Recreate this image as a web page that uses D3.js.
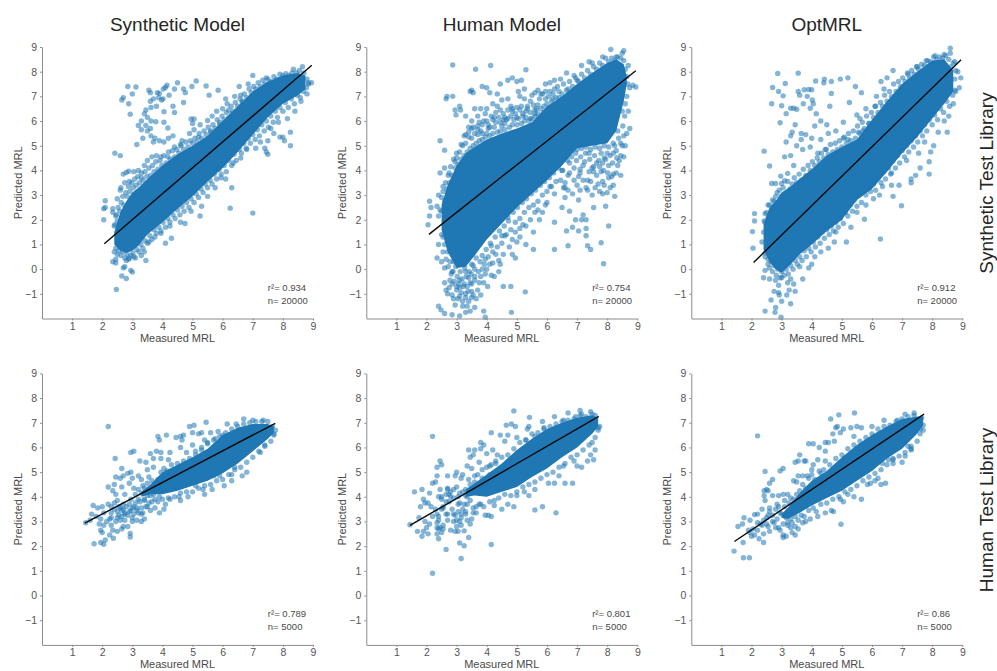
<!DOCTYPE html>
<html>
<head>
<meta charset="utf-8">
<script src="https://d3js.org/d3.v7.min.js"></script>
<style>
  body { margin: 0; background: #fff; }
  svg { display: block; }
  text { font-family: "Liberation Sans", Arial, sans-serif; }
  .tick text { font-size: 10.5px; fill: #555; }
  .tick line, .domain { stroke: #8c8c8c; }
</style>
</head>
<body>
<div class="viz"></div>
<script>
var xTicks = [1, 2, 3, 4, 5, 6, 7, 8, 9];
var yTicks = [-1, 0, 1, 2, 3, 4, 5, 6, 7, 8, 9];
var columnTitles = ['Synthetic Model', 'Human Model', 'OptMRL'];
var rowTitles = ['Synthetic Test Library', 'Human Test Library'];
var rSquared = ['0.934', '0.754', '0.912', '0.789', '0.801', '0.86'];
var sampleSizes = ['20000', '20000', '20000', '5000', '5000', '5000'];

// fit lines, [[x1, y1], [x2, y2]]
var fitLines = [
    [[2.07, 1.03], [8.96, 8.26]],
    [[2.08, 1.41], [8.95, 8.04]],
    [[2.07, 0.27], [8.96, 8.48]],
    [[1.42, 2.93], [7.75, 6.98]],
    [[1.45, 2.84], [7.72, 7.26]],
    [[1.43, 2.19], [7.73, 7.35]]
];

// thousands of points overlap into solid colour in the middle of each panel, so they
// can't be read one by one. That part is a band [x, low, high] read from its edges.
var coreSynSyn = [[2.4,1.0,1.5],[2.6,0.75,2.3],[2.8,0.65,2.75],[3,0.75,3.1],[3.2,0.95,3.3],[3.5,1.4,3.65],[4,1.9,4.2],[4.5,2.45,4.65],[5,2.95,5.0],[5.5,3.55,5.4],[6,4.1,6.0],[6.5,4.75,6.6],[7,5.45,7.2],[7.5,6.15,7.6],[8,6.7,7.85],[8.5,7.05,7.95],[8.75,7.3,7.85]];
var coreHumSyn = [[2.5,1.6,2.6],[2.7,0.7,3.4],[3,0.05,4.2],[3.3,0.1,4.7],[3.6,0.55,4.95],[4,1.2,5.25],[4.5,1.85,5.5],[5,2.5,5.7],[5.5,3.05,5.95],[6,3.6,6.6],[6.5,4.2,7.0],[7,4.9,7.5],[7.5,5.0,7.95],[8,5.1,8.35],[8.3,5.6,8.5],[8.55,6.8,8.3],[8.65,7.5,7.8]];
var coreOptSyn = [[2.4,0.8,1.8],[2.6,0.3,2.5],[2.8,0.0,2.75],[3,-0.15,3.1],[3.3,0.2,3.35],[3.6,0.6,3.65],[4,1.0,4.05],[4.5,1.55,4.6],[5,2.0,4.95],[5.5,2.8,5.25],[6,3.25,6.05],[6.5,3.95,6.8],[7,4.7,7.5],[7.5,5.35,8.0],[8,6.1,8.45],[8.4,6.7,8.5],[8.7,7.2,8.05]];
var coreSynHum = [[3.3,4.0,4.2],[3.6,4.1,4.5],[4,4.1,5.0],[4.5,4.25,5.3],[5,4.45,5.6],[5.5,4.65,5.95],[6,4.95,6.5],[6.5,5.35,6.8],[7,5.85,6.95],[7.5,6.35,6.95],[7.7,6.6,6.85]];
var coreHumHum = [[3.3,4.0,4.3],[3.6,4.05,4.55],[4,4.0,4.9],[4.5,4.2,5.35],[5,4.4,5.9],[5.5,4.8,6.35],[6,5.15,6.75],[6.5,5.6,7.0],[7,6.0,7.2],[7.5,6.55,7.3],[7.7,6.85,7.2]];
var coreOptHum = [[3,3.15,3.3],[3.2,3.1,3.55],[3.6,3.35,4.15],[4,3.65,4.65],[4.5,3.95,5.05],[5,4.25,5.6],[5.5,4.65,6.1],[6,5.05,6.5],[6.5,5.55,6.85],[7,5.95,7.15],[7.5,6.55,7.25],[7.7,6.9,7.25]];

// the points that can be told apart, out in the open
var pointsSynSyn = [[2.42,4.7],[2.6,4.6],[2.65,6.85],[2.7,6.95],[2.85,7.4],[3.12,7.38],[3,7.1],[2.88,6.7],[2.93,6.28],[3.55,7.25],[3.6,7.15],[3.83,7.15],[3.9,7.12],[4.03,7.3],[4.1,7.36],[4.15,7.45],[4.22,7.05],[4.5,7.55],[4.4,7.3],[4.7,7.3],[4.76,7.15],[4.98,7.4],[5.12,7.62],[5.45,7.42],[5.55,7.05],[5.85,7.25],[3.6,6.8],[3.7,6.9],[3.8,6.6],[3.87,6.95],[3.97,6.85],[4.02,6.9],[3.45,6.45],[3.4,6.3],[3.5,6.15],[3.62,6.55],[4.05,6.38],[4.35,6.6],[4.7,6.75],[4.4,6.35],[3.3,6.0],[3.45,5.82],[3.2,5.82],[3.3,5.65],[3.62,6.0],[3.78,5.97],[4.05,5.95],[4.18,5.72],[3.6,5.7],[3.5,5.6],[3.15,5.05],[3.35,5.3],[3.62,5.4],[3.75,5.3],[3.7,5.15],[3.9,5.2],[4.05,5.15],[4.2,5.3],[4.35,5.4],[4.6,5.05],[4.9,5.5],[5.05,5.65],[5.0,5.9],[4.95,6.08],[5.05,6.08],[5.25,5.85],[5.5,6.02],[5.65,6.2],[5.8,6.4],[6.0,6.5],[6.15,6.7],[6.2,6.45],[6.1,6.9],[6.4,7.0],[6.55,7.4],[6.6,7.05],[6.85,7.5],[7.0,7.85],[7.45,7.75],[8.35,8.1],[8.65,8.2],[8.95,7.55],[8.85,7.5],[8.8,7.7],[2.1,2.77],[2.05,2.45],[2.1,2.5],[2.05,2.0],[2.35,2.45],[2.35,2.3],[2.45,2.15],[2.5,2.85],[2.6,3.2],[2.62,3.3],[2.7,3.85],[2.75,3.5],[2.8,3.92],[2.88,3.97],[2.9,3.55],[3.05,3.95],[3.2,4.0],[3.3,3.7],[3.4,4.2],[3.5,4.4],[3.65,4.55],[3.8,4.6],[3.95,4.55],[4.2,4.75],[4.4,4.95],[4.65,5.2],[5.2,5.35],[5.6,5.55],[5.9,5.95],[6.3,6.3],[6.65,6.75],[2.4,1.75],[2.5,1.95],[2.5,0.6],[2.4,0.7],[2.47,-0.82],[2.65,-0.28],[2.8,-0.38],[2.7,0.05],[2.75,0.1],[2.95,-0.05],[3,-0.12],[2.45,0.4],[2.35,0.3],[2.45,0.25],[2.8,0.35],[2.9,0.45],[3.05,0.5],[3.3,0.55],[3.45,0.35],[3.4,0.7],[3.55,1.1],[3.75,1.3],[3.95,1.45],[4.1,1.05],[4.3,1.25],[4.25,1.75],[4.6,1.9],[4.75,1.85],[4.95,2.35],[5.25,2.15],[5.3,2.55],[5.5,2.95],[5.75,3.3],[5.95,3.7],[6.3,3.3],[6.25,2.47],[7,2.27],[6.1,3.65],[6.35,4.3],[6.6,4.5],[6.8,4.85],[7.1,4.9],[7.4,4.9],[7.5,4.65],[7.45,4.75],[7.25,5.15],[7.5,5.2],[7.7,5.5],[7.9,5.35],[8.0,5.35],[8.05,5.2],[8.25,5.0],[8.25,5.55],[8.15,6.1],[8.4,6.4],[8.6,6.8],[8.8,7.1],[7.85,5.95],[7.6,5.7]];
var pointsHumSyn = [[2.87,8.27],[3.63,8.1],[4.13,8.25],[5.3,8.08],[2.65,6.9],[2.68,7.0],[2.87,7.0],[3.1,6.6],[3.13,6.45],[2.95,6.45],[2.98,6.25],[3.3,6.2],[3.45,7.2],[3.5,7.25],[3.55,7.15],[3.85,7.4],[4.0,7.35],[4.1,7.15],[4.35,7.1],[4.45,7.5],[4.7,7.65],[4.85,7.75],[5.0,7.6],[5.15,7.65],[5.05,7.2],[5.25,7.3],[5.6,7.15],[5.7,7.25],[5.8,7.1],[5.95,7.5],[6.1,7.55],[6.25,7.65],[6.45,7.7],[6.65,7.95],[6.9,7.85],[7.15,8.25],[7.4,8.4],[7.5,8.35],[7.85,8.6],[8.12,8.9],[8.3,8.6],[8.5,8.75],[8.55,8.85],[8.7,8.25],[8.85,7.45],[8.95,7.38],[8.75,7.35],[8.7,6.4],[8.75,5.7],[8.65,5.5],[8.6,5.0],[8.55,4.55],[8.4,4.4],[8.45,3.8],[8.2,3.85],[8.2,3.4],[8.25,2.95],[8.0,3.1],[7.85,3.05],[7.95,2.55],[8.05,1.75],[7.88,0.22],[7.8,1.07],[7.45,0.8],[7.35,0.95],[7.3,1.35],[7.05,1.55],[6.85,1.7],[6.65,1.55],[6.95,2.0],[7.15,2.0],[7.3,1.65],[7.3,2.0],[7.2,2.2],[7.55,2.5],[7.5,3.0],[7.3,3.3],[7.7,3.45],[7.85,3.55],[7.05,2.8],[6.75,2.35],[6.5,2.5],[6.6,2.9],[6.25,1.9],[6.25,0.8],[6.7,0.95],[5.55,0.8],[5.3,1.0],[5.1,1.3],[4.85,0.6],[4.95,0.45],[5.0,1.1],[5.2,1.8],[5.55,1.5],[5.75,2.0],[5.85,2.3],[6.0,2.7],[6.25,3.05],[6.1,3.35],[6.6,3.3],[6.9,3.6],[7.4,3.95],[4.8,-0.7],[4.55,-0.7],[4.03,-0.7],[3.95,-1.95],[4.82,-1.75],[5.28,-0.92],[2.4,-1.5],[2.48,-1.65],[2.6,-1.8],[2.85,-1.85],[3.1,-1.9],[3.3,-1.75],[3.45,-1.7],[3.6,-1.55],[3.9,-1.7],[3.35,-1.5],[2.95,-1.45],[3.2,-1.3],[2.7,-1.0],[2.65,-0.85],[2.6,-0.55],[2.85,-0.6],[3.0,-0.85],[3.15,-0.95],[3.3,-1.15],[3.55,-1.05],[3.7,-0.85],[3.9,-0.55],[4.25,-0.3],[4.4,-0.1],[4.0,0.0],[3.8,-0.3],[3.5,-0.6],[3.4,-0.35],[3.1,-0.45],[2.6,0.05],[2.5,0.3],[2.35,0.45],[2.4,1.0],[2.5,1.4],[2.1,2.75],[2.15,2.5],[2.1,2.15],[2.05,1.8],[2.35,2.55],[2.5,2.35],[2.4,2.15],[2.45,5.2],[2.6,4.82],[2.45,3.9],[2.6,4.1],[2.55,3.35],[2.4,3.0],[2.75,3.9],[2.95,4.35],[3.0,4.7],[3.15,5.05],[3.3,5.45],[3.5,5.7],[3.7,5.65],[3.6,6.5],[3.8,6.5],[3.95,6.3],[4.2,6.05],[4.3,6.35],[4.35,6.6],[4.55,6.05],[4.7,6.9],[4.85,6.4],[5.0,6.55],[5.25,6.9],[5.35,6.5],[5.2,6.2],[5.6,6.3],[5.8,6.1],[4.6,5.9],[4.05,5.7],[3.85,5.5],[6.2,6.9],[6.4,6.95],[6.7,7.3],[7.0,7.65],[3.5,0.2],[3.3,-0.1],[2.9,0.3],[2.85,-0.1],[4.3,0.6],[4.5,1.05],[4.6,1.35],[4.15,0.95],[3.95,0.4],[4.7,2.1],[7.55,4.15],[8.05,4.2],[7.9,4.5],[8.3,4.8],[7.1,4.05],[6.7,3.8],[6.5,4.0],[7.8,3.95],[8.05,3.7],[6.55,3.3],[6.7,3.2],[6.85,3.05],[7,3.4],[7.1,3.2],[7.2,3.6],[7.35,3.2],[7.45,3.55],[7.6,3.3],[7.75,3.15],[7.9,3.4],[8.1,3.3],[8.15,3.75],[8.3,3.9],[8.35,4.2],[8.45,4.6],[8.5,5.0],[8.55,5.4],[7.0,4.85],[7.15,4.9],[7.3,4.95],[7.45,4.85],[7.6,4.95],[7.75,4.9],[7.9,5.0],[8.05,4.95],[8.2,5.1],[8.35,5.6],[8.5,6.4],[8.6,6.7],[6.95,4.7],[7.4,4.7],[7.65,4.3],[7.85,4.3],[8.0,4.7],[8.2,4.7],[6.75,4.3],[7.1,3.9],[7.25,4.35],[7.55,3.95],[7.75,4.15],[2.75,-0.75],[2.9,-1.2],[3.05,-1.2],[3.2,-1.5],[3.4,-1.3],[3.5,-1.15],[3.65,-1.2],[3.8,-1.05],[3.35,-0.7],[3.1,-0.75],[3.45,-0.55],[3.6,-0.3],[3.85,0.0],[4.15,-0.25],[4.2,0.25],[4.45,0.2],[4.55,0.6],[4.75,0.9],[4.85,1.2],[4.95,1.5],[5.1,1.65],[5.3,1.75],[5.45,2.0],[5.6,2.3],[5.7,2.4],[5.95,2.6],[3.4,5.55],[3.55,5.75],[3.7,5.45],[3.85,5.85],[4,6.0],[4.1,5.75],[4.25,6.15],[4.45,5.95],[4.6,6.15],[4.7,6.1],[4.85,6.5],[5,6.15],[5.15,6.6],[5.3,6.4],[5.45,6.1],[5.6,6.45],[5.7,6.65],[5.9,6.35],[5.95,7.2],[6.05,7.0],[6.2,7.1],[6.35,7.4]];
var pointsOptSyn = [[2.87,7.93],[3.55,7.94],[3.12,7.52],[2.7,7.36],[2.9,7.2],[3.05,7.02],[2.67,6.7],[3.0,6.62],[3.3,6.52],[3.4,6.52],[3.5,6.48],[3.72,6.7],[3.95,6.52],[3.15,6.3],[2.95,5.93],[4.15,6.3],[4.3,6.0],[3.55,7.2],[3.6,7.05],[3.75,7.27],[3.85,7.0],[3.9,7.28],[4.0,7.27],[4.02,6.85],[4.05,6.7],[4.13,7.62],[4.4,7.55],[4.42,7.7],[4.65,7.6],[4.95,7.7],[5.2,7.75],[5.45,7.4],[4.65,7.12],[4.6,6.6],[5.25,6.75],[5.65,7.15],[5.8,6.5],[5.5,6.25],[5.6,6.1],[5.05,5.95],[4.5,5.85],[4.1,5.8],[3.45,5.85],[3.35,5.55],[3.3,5.4],[3.65,5.5],[3.8,5.45],[3.65,5.25],[4.0,5.3],[4.3,5.25],[4.55,5.5],[4.8,5.6],[5.05,5.3],[3.15,5.15],[3.5,5.0],[3.7,4.85],[3.95,4.95],[4.2,4.7],[4.45,4.85],[2.42,4.78],[2.6,4.18],[3.1,4.55],[3.3,4.6],[3.4,4.2],[3.2,3.88],[2.97,3.77],[2.67,3.47],[2.8,3.47],[3.0,3.47],[3.1,3.58],[2.85,3.1],[2.75,2.75],[2.55,2.6],[2.45,2.25],[2.42,1.95],[2.1,2.25],[2.1,1.95],[2.03,1.52],[2.05,0.85],[2.4,1.5],[2.35,1.1],[2.45,0.65],[2.55,0.2],[2.45,-0.05],[2.4,-0.35],[2.6,-0.4],[2.8,-0.45],[3.0,-0.35],[3.2,-0.55],[3.3,-0.4],[3.4,-0.6],[3.45,-0.9],[3.25,-0.85],[3.17,-1.05],[3.3,-1.4],[2.65,-1.25],[2.75,-0.9],[2.9,-0.65],[2.9,-0.95],[2.92,-1.05],[2.45,-1.7],[2.78,-1.75],[2.8,-1.55],[3.0,-1.3],[2.98,-1.95],[3.6,0.1],[3.7,-0.4],[3.9,0.05],[4.0,0.2],[4.1,0.5],[4.3,0.7],[4.55,0.85],[4.75,1.1],[5.15,1.1],[4.8,1.5],[5.3,1.7],[5.5,2.3],[5.75,2.02],[5.8,2.6],[6.28,1.22],[6.05,2.85],[6.25,3.0],[6.35,3.35],[6.65,3.4],[6.65,3.9],[6.7,2.95],[6.98,2.57],[6.9,3.4],[7.3,3.5],[7.3,3.65],[7.45,3.8],[7.6,4.1],[7.9,3.85],[7.9,4.35],[7.55,4.7],[7.15,4.4],[7.95,4.75],[8.05,5.0],[7.75,5.15],[8.2,5.55],[8.5,5.55],[8.55,6.2],[8.4,6.0],[8.7,6.7],[8.75,7.25],[8.9,7.35],[8.95,7.75],[8.85,8.0],[8.75,8.4],[8.6,8.75],[8.6,8.95],[8.4,8.7],[8.1,8.65],[7.8,8.45],[7.5,8.2],[7.2,7.9],[6.7,8.05],[6.5,7.75],[6.3,7.6],[6.4,7.3],[6.15,7.0],[6.1,6.6],[6.3,6.25],[5.9,5.9],[5.7,5.6],[5.55,5.55],[5.2,5.25]];
var pointsSynHum = [[2.2,6.85],[2.43,5.55],[2.95,5.8],[3.05,5.85],[3.25,5.45],[2.65,5.15],[2.95,5.0],[3.45,5.4],[3.6,5.75],[3.8,5.85],[3.7,5.55],[3.95,5.55],[3.95,5.8],[4.2,5.5],[4.25,5.8],[3.85,6.45],[3.9,6.3],[4.13,6.5],[4.45,6.4],[4.65,6.3],[4.6,6.0],[4.7,6.5],[4.6,6.45],[5.05,6.9],[4.9,6.85],[5.0,6.6],[5.2,6.55],[5.45,7.02],[5.3,6.6],[5.6,6.6],[5.4,6.3],[5.85,6.65],[6.15,6.95],[6.45,6.95],[6.7,7.15],[7.0,7.1],[7.35,7.1],[7.65,6.85],[7.75,6.7],[7.7,6.55],[7.4,6.1],[7.25,5.8],[6.8,5.0],[6.65,4.85],[6.4,5.2],[6.3,4.9],[5.9,4.85],[5.7,4.85],[5.65,4.3],[5.1,4.45],[5.35,4.3],[4.55,4.0],[4.4,4.35],[4.05,3.5],[4.1,3.7],[3.85,3.8],[3.65,3.8],[3.5,3.6],[3.3,3.3],[3.0,3.15],[3.15,3.45],[2.65,3.45],[2.7,3.7],[2.5,3.85],[2.4,3.75],[2.2,3.7],[2.0,3.6],[1.85,3.55],[1.7,3.65],[1.65,3.3],[1.45,2.95],[1.6,3.05],[1.8,3.2],[1.95,3.1],[2.05,3.35],[2.15,3.0],[1.9,2.9],[2.05,2.85],[2.25,3.1],[2.3,3.35],[2.55,3.25],[2.6,3.05],[2.75,3.3],[2.9,3.4],[3.05,3.6],[3.2,3.9],[3.4,3.9],[3.6,4.05],[2.3,2.85],[2.35,2.65],[2.5,2.6],[2.25,2.45],[1.95,2.65],[2.0,2.55],[1.95,2.15],[2.1,2.25],[1.73,2.1],[2.05,2.08],[2.37,2.32],[2.65,2.7],[2.7,2.8],[2.85,2.8],[3.0,3.0],[2.93,2.52],[2.93,2.37],[3.15,3.05],[2.45,4.8],[2.6,4.75],[2.4,4.5],[2.35,4.25],[2.2,4.4],[2.45,4.1],[2.7,4.85],[2.65,4.4],[2.85,4.95],[2.9,4.55],[3.0,4.75],[3.2,4.85],[3.05,4.35],[2.75,4.1],[2.95,3.9],[2.55,3.6],[3.35,4.45],[3.3,4.7],[3.5,5.1],[3.7,5.2],[3.55,4.8],[3.75,3.55],[3.9,3.35],[4.25,3.9],[4.6,3.85],[4.85,4.0],[5.4,4.1],[6.05,4.45],[6.3,4.65],[5.3,6.0],[5.0,6.1],[4.8,5.8],[5.1,5.85],[5.5,6.2],[5.75,6.35],[6.0,6.5]];
var pointsHumHum = [[2.2,6.45],[4.9,7.48],[5.42,7.22],[6.7,7.4],[6.25,7.25],[5.85,7.05],[4.82,6.95],[4.65,6.9],[4.95,6.85],[5.4,6.85],[5.35,6.75],[4.15,6.6],[4.45,6.5],[3.8,6.2],[3.9,6.1],[3.45,5.6],[3.55,5.7],[3.4,5.9],[3.6,5.9],[3.8,5.95],[4.0,5.75],[4.2,5.9],[4.35,5.7],[4.6,6.25],[4.7,6.5],[5.0,6.4],[3.75,5.4],[3.5,5.15],[3.35,5.25],[3.0,5.0],[2.95,4.85],[3.15,4.75],[3.2,4.9],[2.45,5.45],[2.35,5.2],[2.5,5.3],[2.35,4.85],[2.7,4.85],[2.3,4.6],[2.45,4.3],[2.2,4.55],[2.1,4.15],[1.85,4.3],[1.6,4.2],[1.9,3.9],[2.05,3.75],[1.95,3.75],[1.8,3.6],[2.15,3.6],[2.65,3.8],[2.5,4.0],[2.7,4.35],[2.8,4.2],[2.9,3.95],[3.1,4.15],[3.3,4.3],[3.45,4.5],[3.6,4.85],[3.05,3.7],[2.85,3.5],[2.65,3.3],[2.3,3.5],[2.4,3.2],[2.2,3.2],[1.95,3.0],[1.45,2.87],[1.75,3.15],[1.9,2.6],[1.7,2.6],[2.0,2.75],[2.05,2.5],[1.85,2.4],[2.1,2.9],[2.35,2.95],[2.4,2.7],[2.5,2.55],[2.35,2.5],[2.4,2.3],[2.55,2.7],[2.7,3.05],[2.8,2.65],[2.95,2.6],[3.05,2.6],[3.15,2.85],[3.25,2.62],[3.15,3.3],[3.0,3.05],[3.3,3.3],[3.5,3.1],[3.45,2.9],[3.05,3.4],[3.35,3.7],[3.65,3.6],[3.95,3.25],[4.05,3.25],[4.15,3.2],[4.15,2.07],[2.65,1.87],[3.1,2.13],[3.25,2.02],[3.4,2.35],[3.15,1.5],[2.2,0.9],[3.8,3.7],[4.25,3.65],[4.5,3.5],[4.7,3.7],[4.9,3.6],[5.6,3.47],[5.85,3.6],[6.3,3.35],[5.0,4.05],[5.4,4.05],[5.25,4.2],[5.6,4.3],[6.05,4.55],[6.25,4.55],[6.6,4.55],[6.85,4.55],[6.4,4.85],[7.15,5.2],[7.0,5.25],[6.55,5.25],[6.9,5.45],[7.35,5.45],[7.55,5.5],[7.45,5.7],[7.6,5.9],[7.5,6.2],[7.75,6.85],[7.7,6.7],[7.6,7.3],[7.45,7.45],[7.1,7.5],[7.15,7.35],[6.95,7.25],[6.55,7.1],[5.9,6.75],[5.6,6.45],[5.3,6.3],[4.1,5.25],[4.3,5.45],[4.1,4.9],[3.85,4.75],[3.3,4.05],[3.2,3.5],[2.9,3.3],[2.55,3.55],[2.75,4.1],[3.55,3.35]];
var pointsOptHum = [[2.2,6.47],[5.42,7.4],[4.9,7.32],[4.63,7.15],[4.85,6.85],[4.8,6.8],[5.05,6.75],[5.3,6.8],[5.5,6.85],[4.45,6.2],[4.7,6.55],[4.95,6.6],[4.55,6.2],[4.75,6.25],[3.9,6.15],[4.05,6.15],[4.25,6.0],[4.45,5.85],[3.6,5.7],[3.55,5.45],[3.45,5.4],[3.75,5.45],[3.8,5.45],[4.05,5.3],[4.2,5.5],[4.45,5.45],[4.0,5.1],[3.05,5.15],[2.95,5.05],[2.45,5.03],[2.7,4.7],[2.6,4.55],[2.5,4.3],[2.42,4.25],[2.55,4.25],[2.42,4.05],[2.45,3.85],[2.7,4.05],[2.9,4.05],[3.05,4.1],[3.2,4.1],[3.3,3.95],[3.5,4.6],[3.55,4.85],[3.7,4.85],[3.4,4.65],[2.85,3.7],[2.6,3.55],[2.35,3.5],[2.2,3.3],[2.1,3.28],[1.75,3.15],[1.95,3.05],[1.55,2.8],[1.7,2.9],[1.9,2.65],[2.05,2.7],[2.1,2.45],[2.2,2.65],[2.0,2.4],[1.95,2.55],[1.72,2.15],[2.25,2.3],[2.4,2.15],[2.4,2.5],[2.6,2.6],[2.8,2.75],[2.95,2.65],[3.05,2.45],[3.05,2.35],[3.15,2.4],[3.35,2.55],[3.45,2.45],[3.3,2.75],[3.45,2.8],[3.55,2.7],[3.7,2.95],[3.8,3.0],[3.95,3.1],[4.2,3.2],[4.45,3.35],[4.65,3.45],[4.95,3.9],[4.72,3.4],[5.05,3.8],[5.2,4.1],[5.4,4.0],[5.65,3.9],[5.85,4.5],[5.95,4.55],[6.1,4.65],[6.2,4.75],[6.45,4.55],[6.3,4.5],[6.35,5.35],[6.7,5.35],[6.7,5.55],[6.55,5.5],[7.0,5.4],[7.1,5.65],[7.3,5.9],[7.2,6.05],[7.3,5.95],[7.7,6.7],[7.6,6.75],[7.65,7.2],[7.4,7.4],[7.1,7.35],[6.85,7.1],[6.4,7.1],[6.0,6.85],[5.65,6.8],[5.4,6.45],[4.97,2.89],[1.42,1.8],[1.73,1.53],[1.93,1.53],[2.9,2.75],[3.3,3.1],[2.55,3.25],[2.7,3.0],[2.95,3.35],[3.1,3.6],[3.2,2.95],[2.35,2.85],[2.2,2.95],[2.5,2.9],[3.9,4.75],[4.3,4.95]];

// estimated points on the crowded fringe round each solid band
var fringeSynSyn = [[2.42,1.8],[2.47,2.2],[2.53,2.5],[2.58,2.35],[2.63,2.7],[2.68,2.95],[2.72,2.6],[2.78,3.1],[2.83,2.95],[2.87,3.35],[2.92,3.15],[2.98,3.5],[3.03,3.3],[3.08,3.65],[3.13,3.4],[3.18,3.75],[3.24,3.5],[3.3,3.9],[3.36,3.6],[3.42,3.95],[3.48,3.75],[3.55,4.1],[3.6,3.8],[3.67,4.2],[3.72,3.95],[3.78,4.35],[3.85,4.05],[3.92,4.4],[3.98,4.2],[4.05,4.6],[4.12,4.3],[4.18,4.55],[4.26,4.45],[4.33,4.8],[4.4,4.55],[4.48,4.85],[4.55,4.7],[4.62,5.0],[4.7,4.85],[4.78,5.15],[4.85,4.95],[4.93,5.2],[5,5.1],[5.08,5.3],[5.15,5.15],[5.22,5.5],[5.3,5.3],[5.38,5.6],[5.45,5.45],[5.52,5.75],[5.6,5.6],[5.68,5.85],[5.75,5.7],[5.82,6.05],[5.9,5.85],[5.98,6.2],[6.05,6.05],[6.12,6.35],[6.2,6.15],[6.28,6.6],[6.35,6.4],[6.42,6.75],[6.5,6.6],[6.58,6.9],[6.65,6.8],[6.72,7.1],[6.8,6.95],[6.88,7.3],[6.95,7.15],[7.03,7.4],[7.1,7.3],[7.18,7.55],[7.25,7.4],[7.33,7.65],[7.4,7.5],[7.5,7.7],[7.6,7.6],[7.7,7.8],[7.8,7.7],[7.9,7.9],[8,7.85],[8.1,7.92],[8.2,7.85],[8.3,7.95],[8.45,7.95],[8.55,8.05],[8.7,7.95],[2.45,0.85],[2.52,1.1],[2.55,0.75],[2.62,0.55],[2.68,0.7],[2.75,0.45],[2.82,0.6],[2.88,0.4],[2.95,0.55],[3.02,0.65],[3.1,0.45],[3.15,0.8],[3.22,0.7],[3.28,1.0],[3.35,0.85],[3.42,1.15],[3.5,1.05],[3.58,1.35],[3.65,1.2],[3.72,1.6],[3.8,1.45],[3.88,1.7],[3.95,1.55],[4.02,1.9],[4.1,1.7],[4.18,2.05],[4.25,1.9],[4.35,2.2],[4.42,2.05],[4.5,2.4],[4.58,2.2],[4.65,2.55],[4.72,2.35],[4.8,2.7],[4.88,2.5],[4.95,2.85],[5.05,2.7],[5.12,3.05],[5.2,2.9],[5.28,3.25],[5.35,3.1],[5.42,3.45],[5.5,3.3],[5.58,3.6],[5.65,3.45],[5.72,3.85],[5.8,3.65],[5.88,4.05],[5.95,3.85],[6.05,4.2],[6.12,3.95],[6.2,4.4],[6.3,4.2],[6.38,4.65],[6.45,4.4],[6.55,4.85],[6.62,4.7],[6.7,5.1],[6.78,4.9],[6.85,5.3],[6.92,5.1],[7,5.45],[7.08,5.25],[7.15,5.65],[7.22,5.4],[7.3,5.85],[7.38,5.6],[7.45,6.0],[7.52,5.75],[7.6,6.2],[7.68,5.95],[7.75,6.4],[7.82,6.15],[7.9,6.55],[8,6.4],[8.08,6.75],[8.18,6.55],[8.28,6.9],[8.38,6.7],[8.48,7.05],[8.58,6.95],[8.68,7.2],[8.78,7.35],[8.85,7.55]];
var fringeHumSyn = [[2.45,2.4],[2.5,2.9],[2.55,3.15],[2.6,2.75],[2.63,3.5],[2.68,3.25],[2.72,3.8],[2.76,3.5],[2.8,4.15],[2.85,3.8],[2.9,4.45],[2.95,4.1],[3,4.5],[3.05,4.25],[3.1,4.75],[3.15,4.45],[3.2,5],[3.25,4.6],[3.3,5.1],[3.35,4.75],[3.4,5.35],[3.45,4.9],[3.5,5.3],[3.55,5.0],[3.6,5.5],[3.65,5.1],[3.7,5.8],[3.75,5.2],[3.8,5.6],[3.85,5.25],[3.9,6.0],[3.95,5.35],[4,5.5],[4.05,5.85],[4.1,5.4],[4.15,6.2],[4.2,5.5],[4.25,5.75],[4.3,5.95],[4.35,5.55],[4.4,6.15],[4.45,5.6],[4.5,5.8],[4.55,6.3],[4.6,5.65],[4.65,6.05],[4.7,6.45],[4.75,5.75],[4.8,6.2],[4.85,5.85],[4.9,6.05],[4.95,6.3],[5,5.85],[5.05,6.1],[5.1,6.45],[5.15,5.9],[5.2,6.3],[5.25,6.0],[5.3,6.15],[5.35,6.6],[5.4,6.0],[5.45,6.35],[5.5,6.1],[5.55,6.65],[5.6,6.2],[5.65,6.5],[5.7,6.3],[5.75,6.9],[5.8,6.5],[5.85,7.1],[5.9,6.6],[5.95,6.9],[6,6.7],[6.1,7.2],[6.15,6.8],[6.25,7.3],[6.3,6.95],[6.4,7.2],[6.5,7.1],[6.55,7.5],[6.65,7.25],[6.75,7.6],[6.85,7.4],[6.95,7.75],[7.05,7.6],[7.15,7.9],[7.25,7.75],[7.35,8.05],[7.45,7.9],[7.55,8.2],[7.65,8.1],[7.75,8.35],[7.85,8.25],[7.95,8.55],[8.05,8.4],[8.15,8.55],[8.25,8.45],[8.35,8.6],[8.45,8.55],[8.55,8.45],[8.6,8.1],[8.65,7.8],[8.68,7.5],[8.65,7.0],[2.55,1.3],[2.6,1.0],[2.55,0.7],[2.65,0.4],[2.7,0.7],[2.72,0.1],[2.78,0.3],[2.82,-0.2],[2.88,-0.1],[2.92,-0.5],[2.97,0.1],[3.02,-0.3],[3.07,-0.6],[3.12,-0.1],[3.18,-0.4],[3.22,-0.7],[3.27,0.05],[3.32,-0.3],[3.38,-0.9],[3.42,-0.1],[3.48,-0.2],[3.55,0.15],[3.6,0.0],[3.65,0.45],[3.72,-0.1],[3.78,0.3],[3.85,0.55],[3.92,0.2],[3.98,0.8],[4.05,0.5],[4.12,1.05],[4.2,0.7],[4.28,1.3],[4.35,0.9],[4.42,1.55],[4.5,1.35],[4.58,1.75],[4.65,1.4],[4.72,1.95],[4.8,1.6],[4.88,2.3],[4.95,1.9],[5.02,2.5],[5.1,2.05],[5.18,2.7],[5.25,2.3],[5.32,2.85],[5.4,2.5],[5.48,3.05],[5.55,2.6],[5.62,3.2],[5.7,2.75],[5.78,3.4],[5.85,3.0],[5.92,3.55],[6,3.15],[6.08,3.7],[6.15,3.35],[6.22,3.9],[6.3,3.55],[6.38,4.1],[6.45,3.6],[6.52,4.0],[6.6,3.5],[6.68,4.4],[6.75,3.9],[6.82,4.55],[6.9,4.1],[6.98,4.4],[7.05,3.75],[7.12,4.55],[7.2,4.2],[7.28,4.7],[7.35,3.6],[7.42,4.45],[7.5,4.1],[7.58,4.6],[7.65,3.8],[7.72,4.4],[7.8,4.7],[7.88,4.0],[7.95,4.45],[8.02,3.9],[8.1,4.6],[8.18,4.3],[8.25,5.0],[8.32,4.5],[8.38,5.3],[8.45,5.1],[8.52,5.8],[8.58,6.2],[3.3,-1.0],[3.1,-1.1],[2.85,-1.05],[3.6,-0.45],[3.25,-0.6],[3.0,-0.7],[2.78,-0.45],[3.5,-0.9],[3.75,-0.55],[3.95,-0.2],[4.1,0.2],[4.4,0.35],[3.5,6.0],[3.7,6.2],[4.0,6.5],[4.2,6.7],[4.5,6.85],[4.8,6.6],[5.1,7.0],[5.45,6.8],[5.5,7.05],[3.4,5.75],[3.25,5.4],[3.75,5.95],[4.45,6.45]];
var fringeOptSyn = [[2.45,1.9],[2.5,2.3],[2.55,2.1],[2.6,2.6],[2.65,2.35],[2.7,2.8],[2.75,2.55],[2.8,2.95],[2.85,2.7],[2.92,3.2],[2.98,2.95],[3.05,3.3],[3.12,3.05],[3.2,3.55],[3.28,3.25],[3.35,3.45],[3.42,3.7],[3.5,3.5],[3.58,3.85],[3.65,3.6],[3.72,4.05],[3.8,3.8],[3.88,4.2],[3.95,4.0],[4.02,4.35],[4.1,4.2],[4.18,4.5],[4.25,4.35],[4.32,4.7],[4.4,4.5],[4.48,4.85],[4.55,4.65],[4.62,5.05],[4.7,4.75],[4.78,5.1],[4.85,4.85],[4.92,5.2],[5,4.95],[5.08,5.35],[5.15,5.1],[5.22,5.5],[5.3,5.2],[5.38,5.6],[5.45,5.3],[5.52,5.8],[5.6,5.5],[5.68,5.95],[5.75,5.7],[5.82,6.2],[5.9,5.9],[5.98,6.35],[6.05,6.15],[6.12,6.6],[6.2,6.35],[6.28,6.75],[6.35,6.6],[6.42,7.05],[6.5,6.8],[6.58,7.2],[6.65,7.0],[6.72,7.5],[6.8,7.2],[6.88,7.6],[6.95,7.4],[7.02,7.75],[7.1,7.6],[7.18,7.95],[7.25,7.75],[7.32,8.05],[7.4,7.9],[7.48,8.2],[7.55,8.1],[7.65,8.3],[7.75,8.25],[7.85,8.45],[7.95,8.4],[8.05,8.6],[8.15,8.5],[8.25,8.6],[8.35,8.55],[8.45,8.65],[8.55,8.5],[8.62,8.2],[8.7,8.35],[8.78,8.05],[8.75,7.7],[2.45,0.5],[2.5,0.85],[2.55,0.4],[2.6,0.05],[2.65,0.3],[2.7,-0.1],[2.75,0.15],[2.82,-0.25],[2.88,0.0],[2.95,-0.35],[3,-0.1],[3.08,-0.25],[3.15,0.0],[3.22,-0.2],[3.3,0.15],[3.38,0.0],[3.45,0.35],[3.52,0.2],[3.6,0.5],[3.68,0.35],[3.75,0.75],[3.82,0.5],[3.9,0.85],[3.98,0.7],[4.05,1.1],[4.12,0.9],[4.2,1.3],[4.28,1.05],[4.35,1.5],[4.42,1.25],[4.5,1.6],[4.58,1.4],[4.65,1.75],[4.72,1.55],[4.8,1.9],[4.88,1.7],[4.95,2.05],[5.05,1.85],[5.12,2.3],[5.2,2.15],[5.28,2.6],[5.35,2.35],[5.42,2.8],[5.5,2.55],[5.58,3.0],[5.65,2.7],[5.72,3.2],[5.8,3.0],[5.88,3.35],[5.95,3.15],[6.05,3.45],[6.12,3.2],[6.2,3.7],[6.3,3.5],[6.38,3.95],[6.45,3.65],[6.55,4.1],[6.62,3.85],[6.7,4.4],[6.78,4.1],[6.85,4.6],[6.92,4.3],[7,4.8],[7.08,4.55],[7.15,5.0],[7.22,4.75],[7.3,5.2],[7.38,4.95],[7.45,5.4],[7.52,5.15],[7.6,5.6],[7.68,5.4],[7.75,5.85],[7.82,5.6],[7.9,6.05],[8,5.85],[8.08,6.25],[8.18,6.05],[8.28,6.5],[8.38,6.35],[8.48,6.8],[8.58,6.6],[8.68,7.05],[8.78,7.2]];
var fringeSynHum = [[2.5,3.4],[2.6,3.55],[2.65,3.2],[2.7,3.5],[2.75,3.35],[2.8,3.6],[2.85,3.25],[2.9,3.7],[2.95,3.45],[3,3.55],[3.05,3.3],[3.1,3.75],[3.15,3.55],[3.2,3.35],[3.25,3.8],[3.3,3.55],[3.35,3.35],[3.4,3.85],[3.45,3.6],[3.5,4.05],[3.55,3.75],[3.6,3.45],[3.1,4.1],[3.2,4.3],[3.3,4.15],[3.4,4.35],[3.5,4.55],[3.6,4.3],[3.65,4.65],[3.7,4.1],[3.75,3.9],[3.8,4.3],[3.85,4.7],[3.9,4.0],[3.95,5.0],[4,3.9],[4.05,5.15],[4.15,5.05],[4.2,3.95],[4.3,5.3],[4.4,4.0],[4.5,5.35],[4.6,4.15],[4.7,5.45],[4.8,4.2],[4.9,5.55],[5,4.2],[5.1,5.7],[5.2,4.35],[5.3,5.9],[5.4,4.45],[5.5,6.15],[5.6,4.5],[5.7,6.3],[5.8,4.65],[5.9,6.45],[6,4.7],[6.1,6.6],[6.2,4.9],[6.3,6.75],[6.4,5.1],[6.5,6.85],[6.6,5.2],[6.7,6.95],[6.8,5.4],[6.9,7.0],[7,5.6],[7.1,7.05],[7.2,5.85],[7.3,7.05],[7.4,6.05],[7.5,7.05],[7.6,6.25],[7.7,6.5],[3.3,3.0],[3.4,3.1],[2.4,3.5],[2.3,3.6],[2.3,3.15],[2.45,3.0],[2.5,3.15],[2.75,3.05]];
var fringeHumHum = [[2.4,4.0],[2.5,3.9],[2.55,3.6],[2.65,4.1],[2.7,4.3],[2.75,3.8],[2.8,4.0],[2.9,4.3],[3,4.4],[3.05,4.0],[3.1,3.75],[3.2,4.2],[3.25,3.7],[3.3,3.4],[3.35,4.0],[3.4,4.7],[3.45,3.85],[3.5,4.3],[3.55,3.55],[3.6,4.6],[3.65,3.35],[3.7,4.9],[3.75,3.7],[3.8,4.4],[3.85,5.1],[3.9,3.6],[3.95,4.5],[4,5.2],[4.1,3.8],[4.15,5.3],[4.25,3.85],[4.3,5.35],[4.4,3.95],[4.5,5.6],[4.6,4.1],[4.7,5.7],[4.8,4.05],[4.9,5.95],[5,4.2],[5.1,6.2],[5.2,4.4],[5.3,6.3],[5.4,4.5],[5.5,6.55],[5.6,4.6],[5.7,6.6],[5.8,4.75],[5.9,6.8],[6,4.9],[6.1,6.85],[6.2,5.0],[6.3,6.95],[6.4,5.2],[6.5,7.05],[6.6,5.35],[6.7,7.1],[6.8,5.6],[6.9,7.15],[7,5.7],[7.1,7.3],[7.2,5.9],[7.3,7.25],[7.4,6.1],[7.5,7.35],[7.6,6.4],[7.7,6.8],[3.1,3.0],[3.0,2.8],[2.9,3.0],[2.7,3.3],[2.45,2.75],[2.4,3.05],[2.35,3.3],[2.5,3.5],[2.95,3.25],[3.15,3.15],[3.35,3.05],[2.55,2.85],[2.35,2.75]];
var fringeOptHum = [[2.3,2.9],[2.4,3.05],[2.5,3.15],[2.55,2.8],[2.6,3.4],[2.7,3.25],[2.75,2.95],[2.8,3.5],[2.85,3.1],[2.9,3.6],[3,3.3],[3.05,2.9],[3.1,3.85],[3.15,3.15],[3.2,2.85],[3.25,3.75],[3.3,3.3],[3.35,2.95],[3.4,3.9],[3.45,3.2],[3.5,4.1],[3.55,3.05],[3.6,4.25],[3.65,3.25],[3.7,4.5],[3.75,3.2],[3.8,4.35],[3.85,4.85],[3.9,3.45],[3.95,4.4],[4,4.9],[4.05,3.55],[4.1,4.7],[4.15,3.4],[4.25,5.05],[4.3,3.7],[4.4,5.1],[4.5,3.75],[4.6,5.3],[4.7,3.9],[4.8,5.55],[4.9,4.0],[5,5.7],[5.1,4.2],[5.2,5.95],[5.3,4.3],[5.4,6.1],[5.5,4.45],[5.6,6.25],[5.7,4.65],[5.8,6.4],[5.9,4.8],[6,6.55],[6.1,4.95],[6.2,6.75],[6.3,5.1],[6.4,6.85],[6.5,5.3],[6.6,6.9],[6.7,5.5],[6.8,7.05],[6.9,5.65],[7,7.15],[7.1,5.8],[7.2,7.25],[7.3,6.05],[7.4,7.3],[7.5,6.25],[7.6,6.55],[7.7,6.9]];

var corePoints = [coreSynSyn, coreHumSyn, coreOptSyn, coreSynHum, coreHumHum, coreOptHum];
var scatterPoints = [
    pointsSynSyn.concat(fringeSynSyn),
    pointsHumSyn.concat(fringeHumSyn),
    pointsOptSyn.concat(fringeOptSyn),
    pointsSynHum.concat(fringeSynHum),
    pointsHumHum.concat(fringeHumHum),
    pointsOptHum.concat(fringeOptHum)
];

var width = 997,
    height = 671,
    panelWidth = 271,
    panelHeight = 271.5,
    panelLeft = [42, 366.3, 691.3],
    panelTop = [47, 373.4],
    blue = '#1f77b4';

var svg = d3.select('.viz').append('svg')
    .attr('width', width)
    .attr('height', height);

var x = d3.scaleLinear().domain([0, 9]).range([0, panelWidth]);
var y = d3.scaleLinear().domain([-2, 9]).range([panelHeight, 0]);

var area = d3.area()
    .x(d => x(d[0]))
    .y0(d => y(d[1]))
    .y1(d => y(d[2]));

var line = d3.line()
    .x(d => x(d[0]))
    .y(d => y(d[1]));

d3.range(6).forEach(function(i) {
    var col = i % 3,
        row = Math.floor(i / 3);

    var g = svg.append('g')
        .attr('transform', 'translate(' + panelLeft[col] + ',' + panelTop[row] + ')');

    g.append('path')
        .datum(corePoints[i])
        .attr('d', area)
        .attr('fill', blue);

    g.selectAll('circle')
        .data(scatterPoints[i])
        .enter().append('circle')
        .attr('cx', d => x(d[0]))
        .attr('cy', d => y(d[1]))
        .attr('r', 2.7)
        .attr('fill', blue)
        .attr('opacity', 0.55);

    g.append('path')
        .datum(fitLines[i])
        .attr('d', line)
        .attr('fill', 'none')
        .attr('stroke', '#0a0a0a')
        .attr('stroke-width', 1.4);

    g.append('g')
        .attr('transform', 'translate(0,' + panelHeight + ')')
        .call(d3.axisBottom(x).tickValues(xTicks).tickSize(2).tickSizeOuter(0).tickPadding(2));

    g.append('g')
        .call(d3.axisLeft(y).tickValues(yTicks).tickSize(2).tickSizeOuter(0).tickPadding(3));

    g.append('text')
        .attr('x', panelWidth / 2)
        .attr('y', panelHeight + 23)
        .attr('text-anchor', 'middle')
        .attr('font-size', 11)
        .attr('fill', '#4a4a4a')
        .text('Measured MRL');

    g.append('text')
        .attr('transform', 'translate(-20,' + y(3.5) + ') rotate(-90)')
        .attr('text-anchor', 'middle')
        .attr('font-size', 11)
        .attr('fill', '#4a4a4a')
        .text('Predicted MRL');

    g.append('text')
        .attr('x', x(7.5))
        .attr('y', y(-1) - 3)
        .attr('font-size', 9.5)
        .attr('fill', '#4a4a4a')
        .text('r\u00b2= ' + rSquared[i]);

    g.append('text')
        .attr('x', x(7.5))
        .attr('y', y(-1) + 10)
        .attr('font-size', 9.5)
        .attr('fill', '#4a4a4a')
        .text('n= ' + sampleSizes[i]);
});

svg.selectAll('.column-title')
    .data(columnTitles)
    .enter().append('text')
    .attr('class', 'column-title')
    .attr('x', (d, i) => panelLeft[i] + panelWidth / 2)
    .attr('y', 31)
    .attr('text-anchor', 'middle')
    .attr('font-size', 19)
    .attr('fill', '#262626')
    .text(d => d);

svg.selectAll('.row-title')
    .data(rowTitles)
    .enter().append('text')
    .attr('class', 'row-title')
    .attr('transform', (d, i) => 'translate(993,' + (i == 0 ? 183 : 510) + ') rotate(-90)')
    .attr('text-anchor', 'middle')
    .attr('font-size', 19)
    .attr('fill', '#262626')
    .text(d => d);
</script>
</body>
</html>
